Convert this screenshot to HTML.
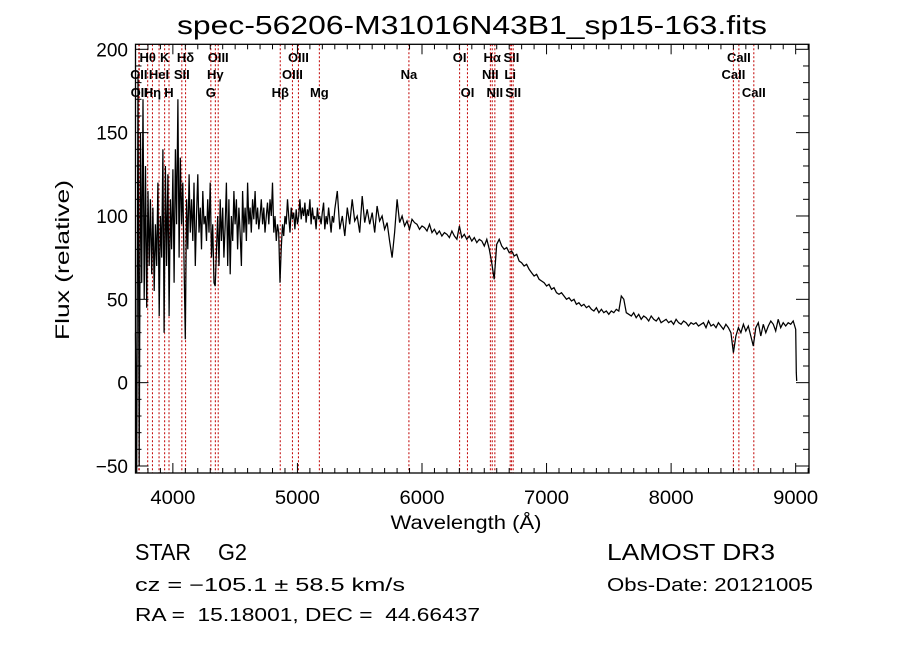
<!DOCTYPE html>
<html><head><meta charset="utf-8"><style>
html,body{margin:0;padding:0;background:#fff;}
svg{display:block;}
text{font-family:"Liberation Sans",sans-serif;fill:#000;white-space:pre;}
</style></head><body>
<svg id="chart" width="900" height="649" viewBox="0 0 900 649" xmlns="http://www.w3.org/2000/svg">
<rect width="900" height="649" fill="#fff"/>
<text x="472" y="34" text-anchor="middle" font-size="26" textLength="590" lengthAdjust="spacingAndGlyphs">spec-56206-M31016N43B1_sp15-163.fits</text>
<g id="lines"></g>
<g id="spec"></g>
<g id="axes"></g>
<text x="466" y="529" text-anchor="middle" font-size="19" textLength="151" lengthAdjust="spacingAndGlyphs">Wavelength (Å)</text>
<text transform="translate(69,260) rotate(-90)" text-anchor="middle" font-size="19" textLength="160" lengthAdjust="spacingAndGlyphs">Flux (relative)</text>
<text x="135" y="560" font-size="23" textLength="56" lengthAdjust="spacingAndGlyphs">STAR</text>
<text x="218" y="560" font-size="23" textLength="29" lengthAdjust="spacingAndGlyphs">G2</text>
<text x="607" y="560" font-size="23" textLength="168" lengthAdjust="spacingAndGlyphs">LAMOST DR3</text>
<text x="135" y="591" font-size="18" textLength="270" lengthAdjust="spacingAndGlyphs">cz = −105.1 ± 58.5 km/s</text>
<text x="607" y="591" font-size="18" textLength="206" lengthAdjust="spacingAndGlyphs">Obs-Date: 20121005</text>
<text x="135" y="621" font-size="18" textLength="345" lengthAdjust="spacingAndGlyphs">RA =  15.18001, DEC =  44.66437</text>
</svg>
<script>
const xDomain = [3700, 9107];
const yDomain = [-54.2, 203];
const xTicks = [4000, 5000, 6000, 7000, 8000, 9000];
const yTicks = [-50, 0, 50, 100, 150, 200];
const blueStart = 3700, blueStep = 10;
const blueFlux = [30,-55,185,-50,150,60,170,50,130,45,115,70,110,65,105,55,95,70,120,40,
100,75,140,30,130,70,125,40,110,80,128,60,140,95,170,75,135,95,120,70,
26,110,80,125,90,110,85,120,70,100,125,90,105,80,115,95,100,85,110,90,
120,75,95,60,58,80,100,70,110,85,105,75,95,120,70,110,65,100,85,115,
95,110,80,105,90,70,115,90,105,85,120,95,105,90,110,98,115,95,105,92,
100,110,95,105,90,100,108,95,110,100,120,90,100,85,95,90,60,80,95,88,
100,95,110,100,90,105,98,102,92,104,95,100,110,98,105,100,108,96,104,100,
110,95,105,98,100,92,105,98,100,95,102,108,92,100,95,105,98,90,100,96,104];
const redStart = 5320, redStep = 20;
const redFlux = [115,92,100,88,105,95,110,97,100,90,112,96,104,95,102,90,106,97,100,92,
96,85,75,90,110,96,100,94,97,92,98,96,95,92,94,93,91,95,90,92,
89,91,88,90,89,87,91,88,86,94,87,89,86,88,85,87,84,86,85,82,
86,80,72,62,83,86,82,80,81,78,79,76,77,73,72,70,71,68,66,64,
65,62,61,60,58,59,56,57,54,53,54,52,50,51,49,50,47,48,46,47,
45,46,44,43,45,42,44,42,43,41,43,42,44,43,52,50,42,41,40,42,
39,41,38,40,39,37,40,38,37,39,36,37,38,36,37,35,38,36,35,37,
36,34,36,35,36,34,35,36,33,37,34,35,33,36,34,32,35,33,30,18,
28,33,30,35,31,34,28,22,33,36,28,35,30,34,37,35,31,38,33,36,
34,36,35,37,32];
const endWave = [9005, 9008];
const endFlux = [6, 1];
const lineNames = ["Hθ","K","Hδ","OIII","OIII","OI","Hα","SII","CaII",
 "OII","HeI","SII","Hγ","OIII","Na","NII","Li","CaII",
 "OII","Hη","H","G","Hβ","Mg","OI","NII","SII","CaII"];
const lineWaves = [3798,3934,4102,4364,5008,6302,6564,6718,8544,
 3727,3889,4072,4341,4960,5895,6549,6708,8500,
 3730,3836,3969,4305,4862,5176,6365,6585,6732,8664];
const lineRows = [0,0,0,0,0,0,0,0,0, 1,1,1,1,1,1,1,1,1, 2,2,2,2,2,2,2,2,2,2];

const PL=135.5, PR=809, PT=44.3, PB=473;
const NS="http://www.w3.org/2000/svg";
const sx = v => PL + (v - xDomain[0]) / (xDomain[1] - xDomain[0]) * (PR - PL);
const sy = v => PB - (v - yDomain[0]) / (yDomain[1] - yDomain[0]) * (PB - PT);
function mk(tag, parent, attrs){const e=document.createElementNS(NS,tag);for(const k in attrs)e.setAttribute(k,attrs[k]);parent.appendChild(e);return e;}

const lg = document.getElementById('lines');
const rowY = [62, 79, 97];
lineWaves.forEach((w,i)=>{
  const x = sx(w);
  const l = mk('line', lg, {x1:x, x2:x, y1:PT, y2:PB, stroke:'#c00000', 'stroke-width':1, 'stroke-dasharray':'2,2'});
  
  
  const t = mk('text', lg, {x:x, y:rowY[lineRows[i]], 'text-anchor':'middle', 'font-size':13, 'font-weight':'bold', 'font-family':'Liberation Serif, serif'});
  t.textContent = lineNames[i];
  
  
});

const pts = [];
blueFlux.forEach((f,i)=>pts.push([blueStart + i*blueStep, f]));
redFlux.forEach((f,i)=>pts.push([redStart + i*redStep, f]));
endWave.forEach((w,i)=>pts.push([w, endFlux[i]]));
const sg = document.getElementById('spec');
const d = pts.map((p,i)=>(i?'L':'M') + sx(p[0]).toFixed(1) + ',' + Math.min(PB,Math.max(PT,sy(p[1]))).toFixed(1)).join('');
const path = mk('path', sg, {d:d, fill:'none', stroke:'#000', 'stroke-width':1.25, 'stroke-linejoin':'miter'});



const ag = document.getElementById('axes');
const frame = mk('rect', ag, {x:PL, y:PT, width:PR-PL, height:PB-PT, fill:'none', stroke:'#000', 'stroke-width':1.3});


for(let w=3700; w<=9100; w+=100){
  const x=sx(w), major = (w%1000===0);
  const len = major?10:5;
  mk('line', ag, {x1:x,x2:x,y1:PB,y2:PB-len,stroke:'#000','stroke-width':1});
  mk('line', ag, {x1:x,x2:x,y1:PT,y2:PT+len,stroke:'#000','stroke-width':1});
}
xTicks.forEach(v=>{
  const t = mk('text', ag, {x:sx(v), y:504, 'text-anchor':'middle', 'font-size':19, textLength:45, lengthAdjust:'spacingAndGlyphs'});
  t.textContent = v;
  
  
});
for(let v=-50; v<=200; v+=10){
  const y=sy(v), major=(v%50===0);
  const len = major?13:6;
  mk('line', ag, {x1:PL,x2:PL+len,y1:y,y2:y,stroke:'#000','stroke-width':1});
  mk('line', ag, {x1:PR,x2:PR-len,y1:y,y2:y,stroke:'#000','stroke-width':1});
}
yTicks.forEach(v=>{
  const t = mk('text', ag, {x:128, y:sy(v)+7, 'text-anchor':'end', 'font-size':19});
  t.textContent = v<0 ? '−'+Math.abs(v) : v;
  
  
});
</script>
</body></html>
